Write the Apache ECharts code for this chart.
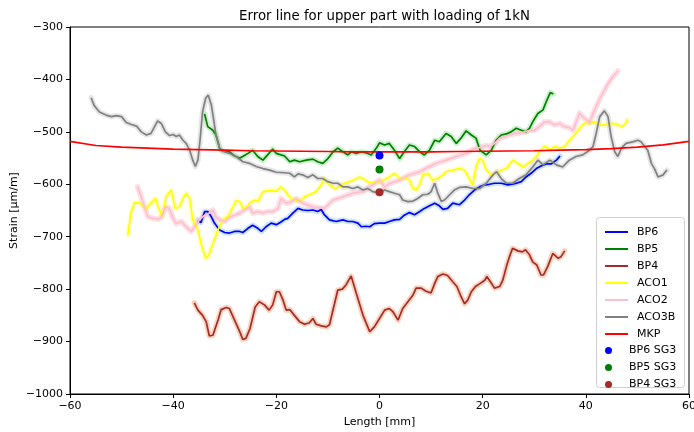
<!DOCTYPE html>
<html>
<head>
<meta charset="utf-8">
<script src="https://cdn.jsdelivr.net/npm/echarts@6/dist/echarts.min.js"></script>
<style>
html, body { margin: 0; padding: 0; background: #fff; }
#chart { width: 694px; height: 432px; }
</style>
</head>
<body>
<div id="chart"></div>
<script>
// Strain along the specimen length (mm -> µm/m) for each gauge line
const bp6X = [-35.2,-34.6,-33.9,-33.3,-32.6,-32,-31,-30,-29.1,-28.1,-27.1,-26.5,-25.5,-24.6,-23.6,-22.9,-22,-21,-20,-19.1,-18.4,-17.8,-16.8,-15.8,-14.9,-13.9,-12.9,-12,-11.3,-10.7,-9.7,-8.4,-7.1,-6.1,-5.2,-4.2,-3.5,-2.6,-1.9,-1,0,1,1.9,2.9,3.9,4.8,5.8,6.8,7.8,8.7,9.7,10.7,11.6,12.3,13.2,14.2,15.5,16.5,17.4,18.4,19.4,20.4,21.3,22.3,23.6,24.9,26.2,27.5,28.4,29.4,30.4,31.3,32.3,33.3,34.3,35];
const bp6Y = [-669,-673,-652,-652,-662,-674,-687,-692,-693,-690,-690,-692,-684,-678,-684,-690,-681,-674,-677,-672,-667,-665,-655,-646,-649,-650,-649,-652,-648,-658,-668,-671,-668,-671,-671,-674,-681,-680,-681,-675,-674,-674,-671,-668,-667,-659,-654,-658,-652,-646,-641,-636,-641,-648,-646,-636,-639,-630,-620,-611,-605,-601,-600,-598,-598,-601,-599,-595,-586,-579,-570,-565,-561,-561,-554,-546];

const bp5X = [-33.9,-33.3,-32.3,-31.7,-31,-30.4,-29.1,-28.1,-27.1,-26.5,-25.5,-24.6,-23.6,-22.6,-21.7,-20.7,-20,-19.4,-18.4,-17.4,-16.5,-15.5,-14.2,-12.9,-12,-11,-10,-9,-8.1,-7.1,-6.1,-5.5,-4.5,-3.5,-2.6,-1.6,-0.6,0,1,1.9,2.9,3.9,4.8,5.8,6.8,7.8,8.7,9.7,10.7,11.6,12.9,13.9,14.9,15.8,16.8,17.8,18.7,19.5,20.7,21.7,22.6,23.6,24.6,25.5,26.5,27.5,28.4,29.1,29.7,30.7,31.7,32.3,33.1,33.7];
const bp5Y = [-466,-490,-497,-506,-531,-537,-538,-546,-550,-547,-541,-535,-547,-554,-544,-533,-541,-543,-546,-557,-554,-557,-554,-552,-557,-560,-551,-538,-531,-538,-544,-538,-541,-538,-540,-544,-531,-521,-525,-522,-535,-551,-538,-525,-528,-538,-544,-535,-516,-519,-503,-509,-522,-512,-498,-506,-512,-535,-544,-535,-516,-506,-504,-500,-493,-497,-500,-493,-481,-465,-458,-443,-425,-428];

const bp4X = [-35.9,-35.2,-34.3,-33.6,-33,-32.3,-31.3,-30.7,-29.7,-29.1,-28.1,-27.1,-26.5,-25.9,-25.1,-24.1,-23.3,-22.3,-21.4,-20.7,-20,-19.4,-18.7,-18.1,-17.4,-16.5,-15.5,-14.5,-13.6,-12.9,-12.3,-11.3,-10.3,-9.7,-8.7,-8.1,-7.2,-6.5,-5.5,-4.5,-3.2,-1.9,-1,0,1,1.9,2.6,3.6,4.5,5.5,6.5,7.1,8.1,9,10,10.7,11.3,12.3,13.2,14.2,15,15.8,16.5,17.1,17.8,18.6,19.4,20.4,20.8,21.5,22.3,23.3,23.9,24.6,25.2,25.8,26.8,27.7,28.3,29.1,29.7,30.5,31.3,31.8,32.6,33.6,34.6,35.2,35.9];
const bp4Y = [-826,-840,-850,-862,-889,-888,-859,-839,-835,-837,-859,-881,-896,-894,-875,-834,-824,-830,-840,-830,-805,-805,-821,-840,-839,-850,-862,-867,-864,-856,-867,-870,-872,-868,-827,-802,-800,-792,-775,-808,-850,-881,-872,-856,-840,-837,-843,-859,-837,-824,-811,-798,-798,-804,-807,-789,-776,-771,-774,-786,-795,-814,-828,-821,-805,-795,-790,-783,-776,-786,-798,-795,-783,-757,-738,-722,-727,-729,-725,-735,-748,-754,-773,-773,-757,-732,-741,-738,-727];

const aco1X = [-48.8,-48.2,-47.5,-46.5,-45.2,-44.3,-43.4,-42.8,-42.1,-41.4,-40.4,-39.6,-38.8,-38.1,-37.5,-36.8,-36.2,-35.2,-34.6,-33.7,-33.1,-32.3,-31.3,-30.4,-29.4,-28.4,-27.8,-27.1,-26.2,-25.2,-24.2,-23.6,-22.6,-21.3,-20,-19.1,-18.4,-17.8,-16.8,-16.2,-15.5,-14.5,-13.6,-12.3,-11.3,-10.7,-9.7,-8.7,-7.8,-6.8,-5.8,-4.8,-3.9,-3.2,-2.3,-1.3,0,1,1.9,2.9,3.9,4.8,5.8,6.5,7.1,7.8,8.4,9.4,10.3,11.3,12.3,12.9,14.2,15.5,16.5,17.4,18.1,18.7,19.4,20,20.7,21.7,22.6,23.6,24.6,25.8,26.8,27.8,28.8,29.7,30.4,31,32,33,33.9,34.9,35.9,36.8,37.8,38.8,39.7,40.7,41.7,42.7,43.9,44.9,45.9,46.9,47.5,48.1];
const aco1Y = [-697,-655,-635,-636,-646,-636,-627,-646,-662,-624,-611,-646,-643,-627,-617,-627,-668,-687,-713,-741,-735,-713,-687,-668,-662,-643,-631,-633,-649,-636,-630,-633,-614,-612,-613,-605,-611,-620,-630,-630,-633,-624,-620,-614,-601,-589,-601,-608,-605,-598,-595,-591,-586,-589,-595,-598,-595,-591,-586,-579,-589,-587,-592,-608,-611,-601,-582,-579,-592,-589,-582,-576,-573,-570,-573,-589,-601,-567,-551,-554,-573,-582,-579,-573,-570,-554,-560,-567,-560,-554,-547,-538,-527,-535,-528,-531,-528,-516,-506,-493,-484,-484,-481,-487,-487,-484,-485,-490,-487,-476];

const aco2X = [-46.9,-46.2,-45.6,-44.9,-43.9,-42.9,-42.3,-41.5,-40.8,-40,-39.4,-38.4,-37.5,-36.5,-35.9,-34.9,-33.9,-33,-32.3,-31.7,-31,-30,-29.1,-28.1,-27.1,-26.2,-25.2,-24.6,-23.6,-22.6,-21.7,-20.7,-19.7,-19.1,-18.1,-17.4,-16.2,-14.9,-12.9,-10.7,-9,-7.1,-5.2,-3.2,-1.3,0,1,2,3.9,5.8,7.8,9.7,11,12.9,14.9,16.8,18.1,19.4,20.7,21.5,22.3,23.3,24.2,25.2,26.2,27.1,28.1,29.1,30,31,32,33,33.9,34.9,35.9,36.8,37.5,38.8,39.7,40.7,41.7,42.7,44,45.2,46.2];
const aco2Y = [-605,-624,-643,-662,-665,-667,-663,-643,-646,-665,-675,-671,-681,-690,-681,-668,-659,-655,-649,-662,-668,-671,-663,-659,-655,-649,-643,-655,-652,-655,-652,-652,-646,-627,-636,-635,-627,-636,-643,-646,-630,-624,-617,-614,-601,-592,-605,-598,-592,-582,-576,-566,-560,-554,-547,-541,-533,-530,-526,-528,-522,-512,-509,-506,-503,-503,-500,-497,-497,-490,-481,-481,-487,-484,-490,-492,-497,-464,-474,-482,-458,-437,-413,-395,-384];

const aco3bX = [-55.9,-55.3,-54.3,-53,-52,-51,-50,-49.1,-48.1,-47.1,-46.2,-45.2,-44.3,-43.6,-43,-42.3,-41.5,-40.7,-40,-39.4,-38.8,-38.1,-37.5,-36.8,-36.2,-35.7,-35.2,-34.8,-34.3,-33.7,-33.2,-32.6,-32.2,-31.7,-31,-30.4,-29.1,-27.8,-26.5,-25.2,-23.9,-22.6,-21.3,-20,-18.4,-17.4,-16.5,-15.8,-14.9,-13.9,-12.9,-12,-11,-10,-9,-8.1,-7.1,-6.1,-5.2,-4.2,-3.2,-2.3,-1.3,0,1,1.9,2.9,3.9,4.5,5.5,6.5,7.4,8.4,9.4,10,10.7,11.3,12,12.6,13.6,14.5,15.5,16.8,18.1,19.4,20.7,22,22.7,23.6,24.6,25.8,27.1,28.4,29.7,30.7,31.7,33,34.3,35.5,36.8,38.1,39.4,40.7,41.4,42,42.7,43.6,44.3,44.9,45.6,46.2,46.9,47.8,49.1,50.1,50.7,51.4,52,52.7,53.3,54,55,55.7];
const aco3bY = [-435,-450,-462,-468,-471,-469,-471,-482,-486,-489,-500,-506,-503,-490,-479,-484,-500,-507,-505,-509,-506,-516,-522,-535,-554,-566,-554,-517,-462,-436,-430,-449,-474,-506,-531,-537,-541,-547,-557,-560,-566,-570,-573,-577,-578,-579,-586,-580,-582,-587,-582,-589,-589,-595,-598,-598,-605,-605,-608,-605,-611,-608,-614,-617,-611,-614,-617,-620,-630,-633,-632,-627,-620,-619,-614,-598,-617,-633,-630,-620,-611,-606,-605,-608,-608,-598,-582,-576,-589,-598,-598,-589,-582,-567,-554,-563,-554,-563,-567,-554,-547,-544,-535,-528,-503,-471,-460,-471,-509,-538,-547,-531,-522,-519,-516,-519,-528,-535,-560,-570,-586,-582,-573];

const mkpX = [-60,-55,-50,-45,-40,-35,-30,-25,-20,-15,-10,-5,0,5,10,15,20,25,30,35,40,45,50,55,60];
const mkpY = [-518,-526,-529,-531,-533,-534,-535,-536,-536.5,-537,-537.5,-538,-538,-538,-538,-537.5,-537,-536.5,-536,-535,-534,-532,-529,-525,-518];

// Single gauge readings at the centre
const sg3Names = ['BP6 SG3', 'BP5 SG3', 'BP4 SG3'];
const sg3X = [0, 0, 0];
const sg3Y = [-545, -572, -615];
const sg3Colors = ['#0000ff', '#008000', '#a52a2a'];

const lineNames = ['BP6', 'BP5', 'BP4', 'ACO1', 'ACO2', 'ACO3B', 'MKP'];
const lineXs = [bp6X, bp5X, bp4X, aco1X, aco2X, aco3bX, mkpX];
const lineYs = [bp6Y, bp5Y, bp4Y, aco1Y, aco2Y, aco3bY, mkpY];
const lineColors = ['#0000ff', '#008000', '#a52a2a', '#ffff00', '#ffc0cb', '#808080', '#ff0000'];
const bandColors = ['#8ec3e6', '#8fe08f', '#f0a070', '#ffff99', '#ffb6c8', '#c8c8c8', null];

const xTicks = { min: -60, max: 60, step: 20 };
const yTicks = { min: -1000, max: -300, step: 100 };

const FONT = 'DejaVu Sans';
const zip = (xs, ys) => xs.map((x, i) => [x, ys[i]]);
const minusSign = v => String(v).replace('-', '\u2212');

const series = [];
// soft uncertainty bands drawn beneath every curve
lineNames.forEach((name, i) => {
  if (!bandColors[i]) return;
  series.push({
    name: name + ' band',
    type: 'line',
    data: zip(lineXs[i], lineYs[i]),
    showSymbol: false,
    silent: true,
    z: 1,
    lineStyle: { color: bandColors[i], width: 5.5, opacity: 0.45, cap: 'round', join: 'round' },
    itemStyle: { color: bandColors[i] }
  });
});
lineNames.forEach((name, i) => {
  series.push({
    name: name,
    type: 'line',
    data: zip(lineXs[i], lineYs[i]),
    showSymbol: false,
    z: 2,
    lineStyle: { color: lineColors[i], width: 1.7 },
    itemStyle: { color: lineColors[i] }
  });
});
sg3Names.forEach((name, i) => {
  series.push({
    name: name,
    type: 'scatter',
    data: [[sg3X[i], sg3Y[i]]],
    symbol: 'circle',
    symbolSize: 8,
    z: 3,
    itemStyle: { color: sg3Colors[i], opacity: 1 }
  });
});

const chart = echarts.init(document.getElementById('chart'), null, { renderer: 'canvas' });
chart.setOption({
  animation: false,
  backgroundColor: '#fff',
  title: {
    text: 'Error line for upper part with loading of 1kN',
    left: 379.5,
    top: 5,
    textAlign: 'center',
    textStyle: { fontFamily: FONT, fontSize: 13.3, fontWeight: 'normal', color: '#000' }
  },
  grid: {
    left: 70, right: 5, top: 27, bottom: 38,
    containLabel: false,
    outerBoundsMode: 'none',
    show: true, borderColor: '#000', borderWidth: 1, backgroundColor: 'transparent'
  },
  legend: [
    {
      data: lineNames.map(n => ({ name: n, icon: 'rect' })),
      orient: 'vertical',
      left: 600,
      top: 220,
      itemWidth: 23,
      itemHeight: 2,
      itemGap: 3,
      textStyle: { fontFamily: FONT, fontSize: 11, color: '#000', lineHeight: 14, padding: [0, 0, 0, 4] }
    },
    {
      data: sg3Names.map(n => ({ name: n, icon: 'circle' })),
      orient: 'vertical',
      left: 600,
      top: 338.5,
      itemWidth: 23,
      itemHeight: 7,
      itemGap: 3,
      textStyle: { fontFamily: FONT, fontSize: 11, color: '#000', lineHeight: 14, padding: [0, 0, 0, 4] }
    }
  ],
  graphic: [{
    type: 'rect',
    shape: { x: 596.5, y: 217.5, width: 88, height: 170, r: 3 },
    style: { fill: 'rgba(255,255,255,0.8)', stroke: '#d0d0d0', lineWidth: 1 },
    z: 0
  }],
  xAxis: {
    type: 'value',
    min: xTicks.min,
    max: xTicks.max,
    interval: xTicks.step,
    name: 'Length [mm]',
    nameLocation: 'middle',
    nameGap: 23,
    nameMoveOverlap: false,
    nameTextStyle: { fontFamily: FONT, fontSize: 11, color: '#000' },
    axisLine: { show: true, onZero: false, lineStyle: { color: '#000', width: 1 } },
    axisTick: { show: true, inside: false, length: 4, lineStyle: { color: '#000' } },
    axisLabel: { margin: 7, fontFamily: FONT, fontSize: 11, color: '#000', formatter: minusSign },
    splitLine: { show: false }
  },
  yAxis: {
    type: 'value',
    min: yTicks.min,
    max: yTicks.max,
    interval: yTicks.step,
    name: 'Strain [\u00b5m/m]',
    nameLocation: 'middle',
    nameGap: 50,
    nameMoveOverlap: false,
    nameTextStyle: { fontFamily: FONT, fontSize: 11, color: '#000' },
    axisLine: { show: true, onZero: false, lineStyle: { color: '#000', width: 1 } },
    axisTick: { show: true, inside: false, length: 4, lineStyle: { color: '#000' } },
    axisLabel: { margin: 7, fontFamily: FONT, fontSize: 11, color: '#000', formatter: minusSign },
    splitLine: { show: false }
  },
  series: series
});
</script>
</body>
</html>
